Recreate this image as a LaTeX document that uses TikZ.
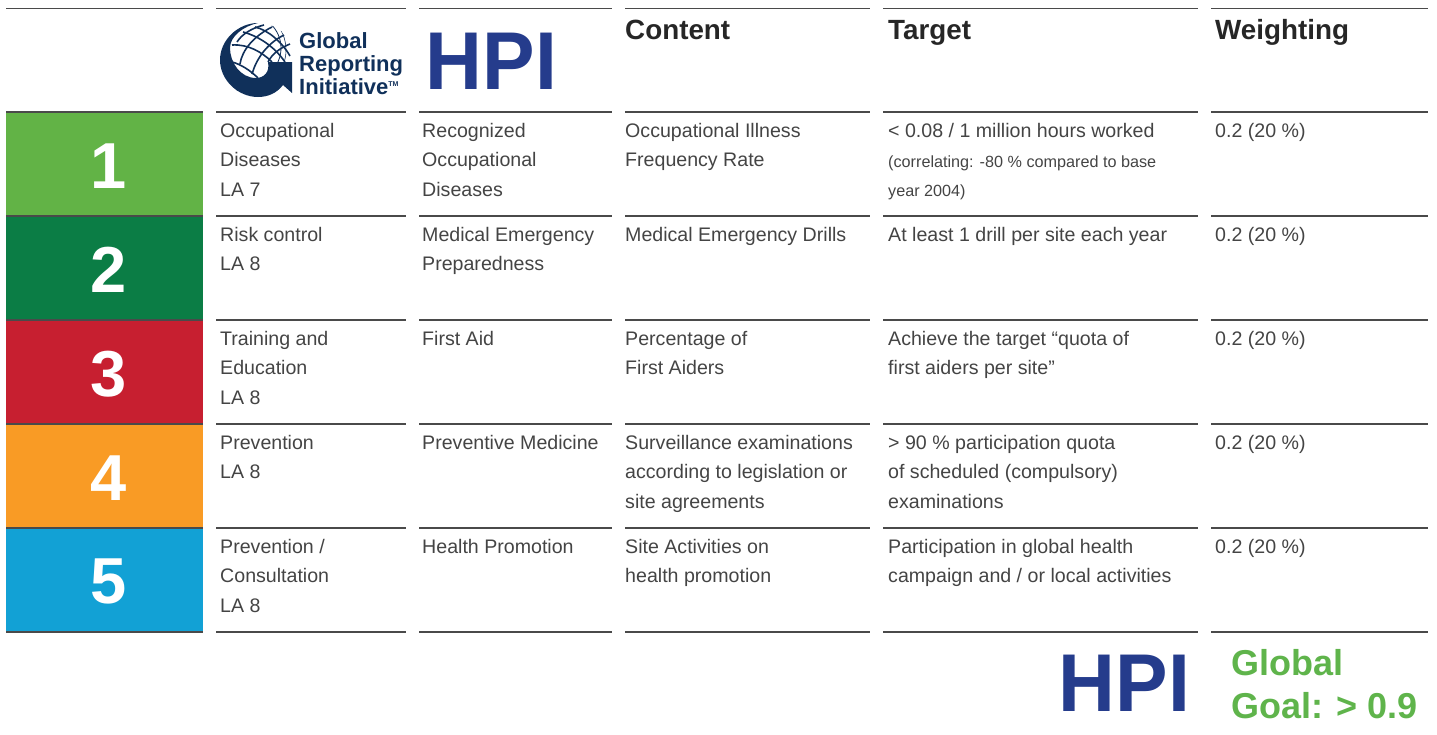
\documentclass[tikz,border=0pt]{standalone}
\usepackage{graphicx}
\usepackage{fontspec}
\setmainfont{Liberation Sans}
\definecolor{rulec}{HTML}{4A4A4A}
\definecolor{txt}{HTML}{444444}
\definecolor{hpi}{HTML}{253C8C}
\definecolor{griblue}{HTML}{10305A}
\definecolor{cA}{HTML}{62B346}
\definecolor{cB}{HTML}{0B7D45}
\definecolor{cC}{HTML}{C71F30}
\definecolor{cD}{HTML}{F99B25}
\definecolor{cE}{HTML}{12A1D5}
\definecolor{goal}{HTML}{5FB44B}
\tikzset{
  x=1pt,y=-1pt,
  rowrule/.style={draw=rulec,line width=1.3pt},
  band/.style={draw=none,minimum width=197pt,minimum height=104pt,inner sep=0,anchor=north west},
  digit/.style={inner sep=0,text=white,font=\fontsize{65}{65}\selectfont\bfseries},
  cell/.style={anchor=north west,inner sep=0,text=txt,font=\fontsize{19.6}{29.5}\selectfont,align=left},
  small/.style={anchor=base west,inner sep=0,text=txt,font=\fontsize{16.2}{29.5}\selectfont},
  head/.style={anchor=base west,inner sep=0,text=black!85,font=\fontsize{27.8}{30}\selectfont\bfseries},
  hpilogo/.style={anchor=base west,inner sep=0,text=hpi,font=\fontsize{82}{82}\selectfont\bfseries},
  gri/.style={anchor=base west,inner sep=0,text=griblue,font=\fontsize{22}{23}\selectfont\bfseries},
  goaltext/.style={anchor=north west,inner sep=0,text=goal,align=left,font=\fontsize{36}{43}\selectfont\bfseries},
  gridline/.style={griblue,line width=1.6pt}
}
\newcommand{\cellat}[4]{\node[cell] (#1) at (#2,{#3-20}) {\rule{0pt}{20pt}#4};}
\begin{document}
\begin{tikzpicture}
\useasboundingbox (0,0) rectangle (1437,734);
% bands
\node[band,fill=cA] (b1) at (6,112) {};
\node[band,fill=cB] (b2) at (6,216) {};
\node[band,fill=cC] (b3) at (6,320) {};
\node[band,fill=cD] (b4) at (6,424) {};
\node[band,fill=cE] (b5) at (6,528) {};
\node[digit] (n1) at ([xshift=4pt,yshift=-1.5pt]b1.center) {1};
\node[digit] (n2) at ([xshift=4pt,yshift=-1.5pt]b2.center) {2};
\node[digit] (n3) at ([xshift=4pt,yshift=-1.5pt]b3.center) {3};
\node[digit] (n4) at ([xshift=4pt,yshift=-1.5pt]b4.center) {4};
\node[digit] (n5) at ([xshift=4pt,yshift=-1.5pt]b5.center) {5};
% rules
\foreach \y in {8.5,112,216,320,424,528,632}{
  \foreach \a/\b in {216/406,419/612,625/870,883/1198,1211/1428}{
    \draw[rowrule] (\a,\y) -- (\b,\y);
  }
}
\draw[rowrule] (6,8.5) -- (203,8.5);
\foreach \y in {112,216,320,424,528,632}{\draw[rowrule] (6,\y) -- (203,\y);}
% header
\node[head] (h1) at (625,39) {Content};
\node[head] (h2) at (888,39) {Target};
\node[head] (h3) at (1215,39) {Weighting};
\node[hpilogo] (hpi1) at (425.5,89) {\scalebox{0.96}[1]{HPI}};
% GRI logo
\begin{scope}
\clip (258,60) circle (37);
\draw[griblue,line width=0.8pt] (248,48) circle (33);
\draw[griblue,line width=0.6pt] (245,50) circle (41);
\draw[gridline] (232,45) .. controls (248,44) and (262,52) .. (272,62);
\draw[gridline] (243,32) .. controls (258,36) and (274,46) .. (285,62);
\draw[gridline] (255,27) .. controls (268,30) and (282,42) .. (290,56);
\draw[gridline] (232,62) .. controls (240,64) and (250,70) .. (258,78);
\draw[gridline] (237,42) .. controls (242,34) and (252,28) .. (264,25);
\draw[gridline] (240,64) .. controls (242,50) and (254,36) .. (272,27);
\draw[gridline] (252,74) .. controls (256,60) and (266,44) .. (284,35);
\draw[gridline] (268,62) .. controls (272,54) and (280,48) .. (290,44);
\end{scope}
\fill[griblue] (258,23)
  .. controls (238,23) and (220,40) .. (220,60)
  .. controls (220,80) and (238,97) .. (258,97)
  .. controls (268,97) and (277,93) .. (283,85)
  -- (292,93) -- (292,62) -- (268,62)
  .. controls (270,72) and (264,78) .. (256,78)
  .. controls (240,78) and (230,62) .. (230,48)
  .. controls (230,36) and (244,26) .. (258,23) -- cycle;
\node[gri] (g1) at (299,48) {Global};
\node[gri] (g2) at (299,71) {Reporting};
\node[gri] (g3) at (299,94) {Initiative\textsuperscript{\fontsize{7}{7}\selectfont TM}};
% col 1
\cellat{a1}{220}{137}{Occupational\\Diseases\\LA 7}
\cellat{a2}{220}{241}{Risk control\\LA 8}
\cellat{a3}{220}{345}{Training and\\Education\\LA 8}
\cellat{a4}{220}{449}{Prevention\\LA 8}
\cellat{a5}{220}{553}{Prevention /\\Consultation\\LA 8}
% col 2
\cellat{c1}{422}{137}{Recognized\\Occupational\\Diseases}
\cellat{c2}{422}{241}{Medical Emergency\\Preparedness}
\cellat{c3}{422}{345}{First Aid}
\cellat{c4}{422}{449}{Preventive Medicine}
\cellat{c5}{422}{553}{Health Promotion}
% col 3
\cellat{d1}{625}{137}{Occupational Illness\\Frequency Rate}
\cellat{d2}{625}{241}{Medical Emergency Drills}
\cellat{d3}{625}{345}{Percentage of\\First Aiders}
\cellat{d4}{625}{449}{Surveillance examinations\\according to legislation or\\site agreements}
\cellat{d5}{625}{553}{Site Activities on\\health promotion}
% col 4
\cellat{e1}{888}{137}{< 0.08 / 1 million hours worked}
\node[small] (e1b) at (888,167) {(correlating: -80 \% compared to base};
\node[small] (e1c) at (888,196) {year 2004)};
\cellat{e2}{888}{241}{At least 1 drill per site each year}
\cellat{e3}{888}{345}{Achieve the target “quota of\\first aiders per site”}
\cellat{e4}{888}{449}{> 90 \% participation quota\\of scheduled (compulsory)\\examinations}
\cellat{e5}{888}{553}{Participation in global health\\campaign and / or local activities}
% col 5
\cellat{f1}{1215}{137}{0.2 (20 \%)}
\cellat{f2}{1215}{241}{0.2 (20 \%)}
\cellat{f3}{1215}{345}{0.2 (20 \%)}
\cellat{f4}{1215}{449}{0.2 (20 \%)}
\cellat{f5}{1215}{553}{0.2 (20 \%)}
% footer
\node[hpilogo] (hpi2) at (1058.5,711) {\scalebox{0.96}[1]{HPI}};
\node[goaltext] (g4) at (1231,{675-26}) {\rule{0pt}{26pt}Global\\Goal: > 0.9};
\end{tikzpicture}
\end{document}
